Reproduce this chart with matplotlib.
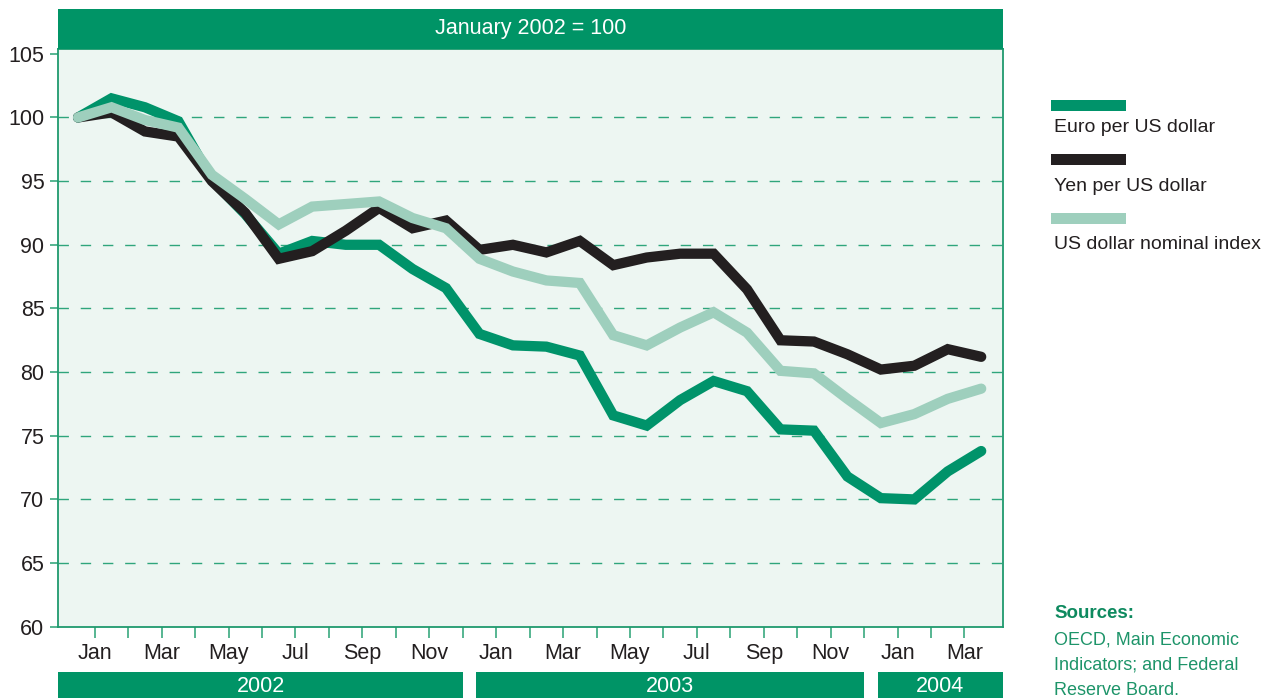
import numpy as np
import matplotlib
matplotlib.use("Agg")
import matplotlib.pyplot as plt
from matplotlib.patches import Rectangle
import matplotlib.transforms as mtransforms

# monthly index values, Jan 2002 .. Apr 2004 (January 2002 = 100)
euro = [100.0, 101.5, 100.8, 99.7, 95.1, 92.4, 89.3, 90.3, 90.0, 90.0,
        88.1, 86.6, 83.0, 82.1, 82.0, 81.3, 76.6, 75.8, 77.8, 79.3,
        78.5, 75.5, 75.4, 71.8, 70.1, 70.0, 72.2, 73.8]
yen = [100.0, 100.4, 98.9, 98.5, 95.0, 92.5, 88.9, 89.5, 91.1, 92.9,
       91.3, 91.9, 89.6, 90.0, 89.4, 90.3, 88.4, 89.0, 89.3, 89.3,
       86.5, 82.5, 82.4, 81.4, 80.2, 80.5, 81.8, 81.2]
usd_index = [100.0, 100.8, 99.8, 99.2, 95.5, 93.6, 91.6, 93.0, 93.2, 93.4,
             92.1, 91.3, 88.9, 87.9, 87.2, 87.0, 82.9, 82.1, 83.5, 84.7,
             83.1, 80.1, 79.9, 77.9, 76.0, 76.7, 77.9, 78.7]

month_labels = ["Jan", "", "Mar", "", "May", "", "Jul", "", "Sep", "", "Nov", "",
                "Jan", "", "Mar", "", "May", "", "Jul", "", "Sep", "", "Nov", "",
                "Jan", "", "Mar"]
years = ["2002", "2003", "2004"]
yticks = [60, 65, 70, 75, 80, 85, 90, 95, 100, 105]

series_names = ["Euro per US dollar", "Yen per US dollar", "US dollar nominal index"]
colors = ["#00936a", "#231f20", "#9ecfbd"]

TXT = "#231f20"
BASE = ["Liberation Sans", "DejaVu Sans"]

fig = plt.figure(figsize=(12.65, 6.98), dpi=100)
ax = fig.add_axes([0.0461, 0.1021, 0.7470, 0.8272])
ax.set_facecolor("#edf6f2")

x = np.arange(len(euro)) - 0.5
for vals, c in zip([euro, yen, usd_index], colors):
    ax.plot(x, vals, color=c, lw=7.4, solid_capstyle="round",
            solid_joinstyle="miter", zorder=3)

ax.set_xlim(-1.09, 27.16)
ax.set_ylim(60, 105.35)

for v in yticks[1:-1]:
    ax.axhline(v, color="#2fa57c", lw=1.0, ls=(0, (7.5, 8.5)), zorder=1)

ax.set_yticks(yticks)
ax.set_yticklabels([str(v) for v in yticks], family=BASE, fontsize=15.5, color=TXT)
ax.set_xticks(range(len(month_labels)))
ax.set_xticklabels(month_labels, family=BASE, fontsize=15.5, color=TXT)
ax.tick_params(axis="x", length=8, width=1.2, color="#3aa97f", pad=4)
ax.tick_params(axis="y", length=6, width=1.2, color="#3aa97f", pad=4)
for s in ax.spines.values():
    s.set_color("#1f9a6e")
    s.set_linewidth(1.3)

# header band
fig.add_artist(Rectangle((0.0461, 0.9294), 0.7470, 0.0582, transform=fig.transFigure,
                         facecolor="#009466", edgecolor="none"))
fig.text(0.0461 + 0.7470 / 2, 0.9585, "January 2002 = 100", ha="center", va="center",
         color="white", fontsize=15.5, family=BASE)

# year bands below the month labels
trans = mtransforms.blended_transform_factory(ax.transData, fig.transFigure)
xl, xr = ax.get_xlim()
for j, yr in enumerate(years):
    x0 = xl if j == 0 else 12 * j - 0.6
    x1 = xr if j == len(years) - 1 else 12 * j + 11
    fig.add_artist(Rectangle((x0, 0), x1 - x0, 0.0372, transform=trans,
                             facecolor="#009466", edgecolor="none", clip_on=False))
    fig.text((x0 + x1) / 2, 0.0165, yr, transform=trans, ha="center", va="center",
             color="white", fontsize=15.5, family=BASE)

# legend
sw_y = [0.8414, 0.7636, 0.6795]
tx_y = [0.818, 0.7325, 0.6504]
for name, c, sy, ty in zip(series_names, colors, sw_y, tx_y):
    fig.add_artist(Rectangle((0.8308, sy), 0.0590, 0.0153, transform=fig.transFigure,
                             facecolor=c, edgecolor="none"))
    fig.text(0.8332, ty, name, ha="left", va="center", fontsize=14, color=TXT,
             family=BASE)

# sources note
src_col = "#1d9469"
fig.text(0.8332, 1 - 614 / 698, "Sources:", ha="left", va="center", fontsize=13.5,
         fontweight="bold", color="#0e8a5f", family=BASE)
for k, line in enumerate(["OECD, Main Economic", "Indicators; and Federal",
                          "Reserve Board."]):
    fig.text(0.8332, 1 - (640 + 25.3 * k) / 698, line, ha="left", va="center",
             fontsize=13, color=src_col, family=BASE)

fig.savefig("out.png", dpi=100)
